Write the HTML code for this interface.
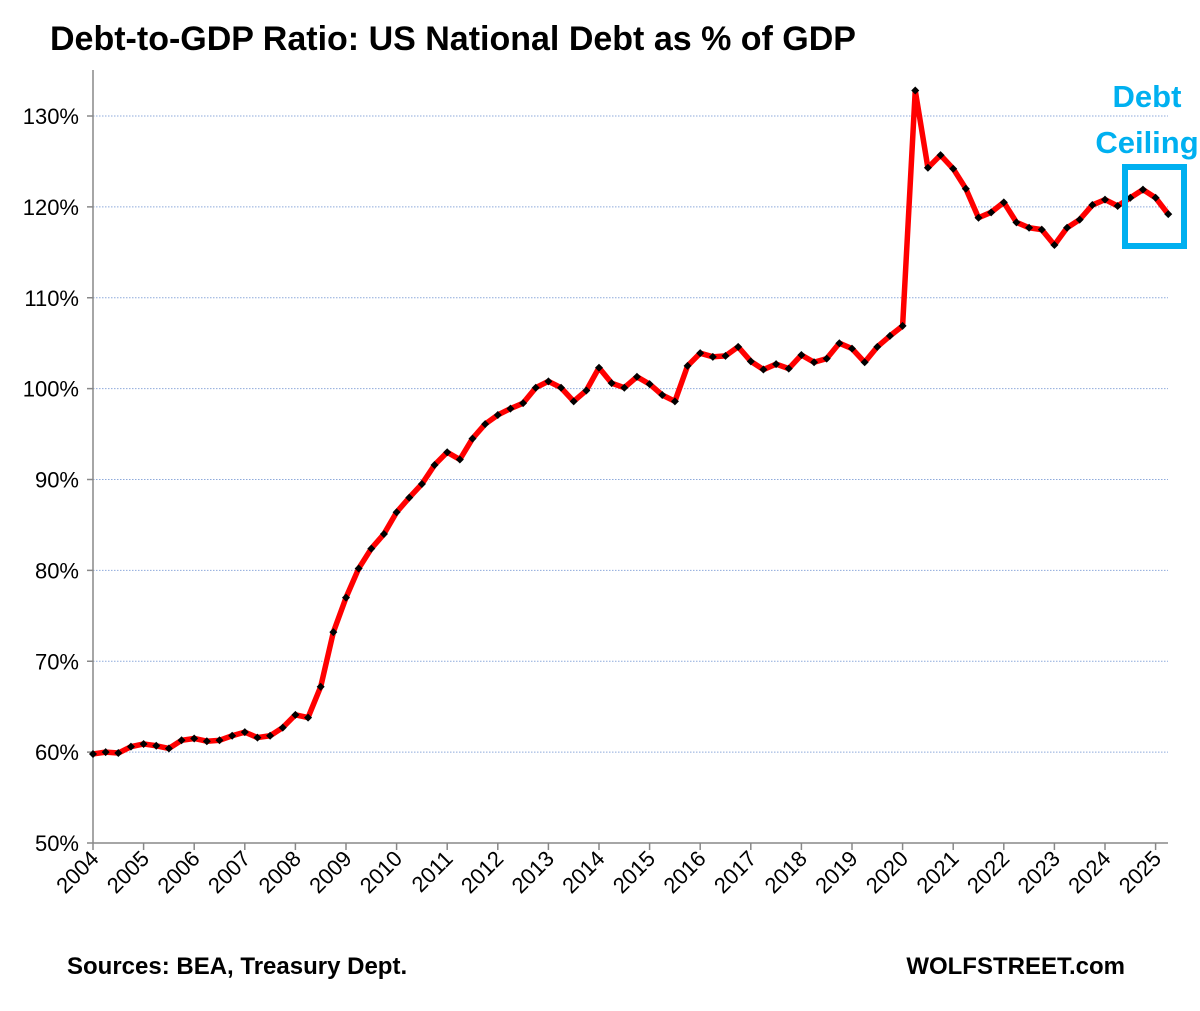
<!DOCTYPE html>
<html><head><meta charset="utf-8"><style>
body{margin:0;background:#fff;}
svg text{font-family:"Liberation Sans",sans-serif;}
</style></head><body>
<svg width="1200" height="1006" viewBox="0 0 1200 1006">
<text x="50" y="50" font-size="34" font-weight="bold" fill="#000">Debt-to-GDP Ratio: US National Debt as % of GDP</text>
<g id="grid"></g><g id="axes"></g><g id="series"></g>
<rect x="1125" y="167" width="59" height="79" fill="none" stroke="#00b0f0" stroke-width="6"/>
<text x="1147" y="107" font-size="31" font-weight="bold" fill="#00b0f0" text-anchor="middle">Debt</text>
<text x="1147" y="153" font-size="31" font-weight="bold" fill="#00b0f0" text-anchor="middle">Ceiling</text>
<text x="67" y="974" font-size="24" font-weight="bold">Sources: BEA, Treasury Dept.</text>
<text x="1125" y="974" font-size="24" font-weight="bold" text-anchor="end">WOLFSTREET.com</text>
</svg>
<script>
const years=[2004,2005,2006,2007,2008,2009,2010,2011,2012,2013,2014,2015,2016,2017,2018,2019,2020,2021,2022,2023,2024,2025];
const yTicks=[50,60,70,80,90,100,110,120,130];
const values=[59.8,60.0,59.9,60.6,60.9,60.7,60.4,61.3,61.5,61.2,61.3,61.8,62.2,61.6,61.8,62.7,64.1,63.8,67.2,73.2,77.0,80.2,82.4,84.0,86.4,88.0,89.5,91.6,93.0,92.2,94.5,96.1,97.1,97.8,98.4,100.1,100.8,100.1,98.6,99.8,102.3,100.6,100.1,101.3,100.5,99.3,98.6,102.5,103.9,103.5,103.6,104.6,103.0,102.1,102.7,102.2,103.7,102.9,103.3,105.0,104.4,102.9,104.6,105.8,106.9,132.8,124.3,125.7,124.2,122.0,118.8,119.4,120.5,118.3,117.7,117.5,115.8,117.7,118.6,120.2,120.8,120.1,121.0,121.9,121.0,119.2];
const NS="http://www.w3.org/2000/svg";
const X0=93,QW=12.65,Y0=843,YS=9.0875;
const xq=i=>X0+i*QW;
const yv=v=>Y0-(v-50)*YS;
function mk(tag,attrs,parent){const e=document.createElementNS(NS,tag);for(const k in attrs)e.setAttribute(k,attrs[k]);document.getElementById(parent).appendChild(e);return e;}
yTicks.forEach(t=>{
  if(t>50){const g=mk('line',{x1:X0,x2:1168,y1:yv(t),y2:yv(t),stroke:'#8eaadb','stroke-width':1,'stroke-dasharray':'1.5 1.5'},'grid');
  
  }
  const tk=mk('line',{x1:X0-6,x2:X0,y1:yv(t),y2:yv(t),stroke:'#888','stroke-width':1.5},'axes');
  
  
  const lb=mk('text',{x:79,y:yv(t)+8,'font-size':22,'text-anchor':'end',fill:'#000'},'axes');
  lb.textContent=t+'%';
  
  
});
const ya=mk('line',{x1:X0,x2:X0,y1:70,y2:Y0,stroke:'#888','stroke-width':1.5},'axes');


const xa=mk('line',{x1:X0,x2:1168,y1:Y0,y2:Y0,stroke:'#888','stroke-width':1.5},'axes');


years.forEach((yr,i)=>{
  const x=xq(i*4);
  const tk=mk('line',{x1:x,x2:x,y1:Y0,y2:Y0+7,stroke:'#888','stroke-width':1.5},'axes');
  
  
  const lb=mk('text',{x:x+7,y:Y0+17,'font-size':22,'text-anchor':'end',transform:`rotate(-45 ${x+7} ${Y0+17})`},'axes');
  lb.textContent=yr;
  
  
});
const pts=values.map((v,i)=>xq(i)+','+yv(v)).join(' ');
const line=mk('polyline',{points:pts,fill:'none',stroke:'#ff0000','stroke-width':5.5,'stroke-linejoin':'round'},'series');


values.forEach((v,i)=>{
  const x=xq(i),y=yv(v);
  const m=mk('polygon',{points:`${x},${y-4} ${x+4},${y} ${x},${y+4} ${x-4},${y}`,fill:'#000'},'series');
  
  
});
</script>
</body></html>
